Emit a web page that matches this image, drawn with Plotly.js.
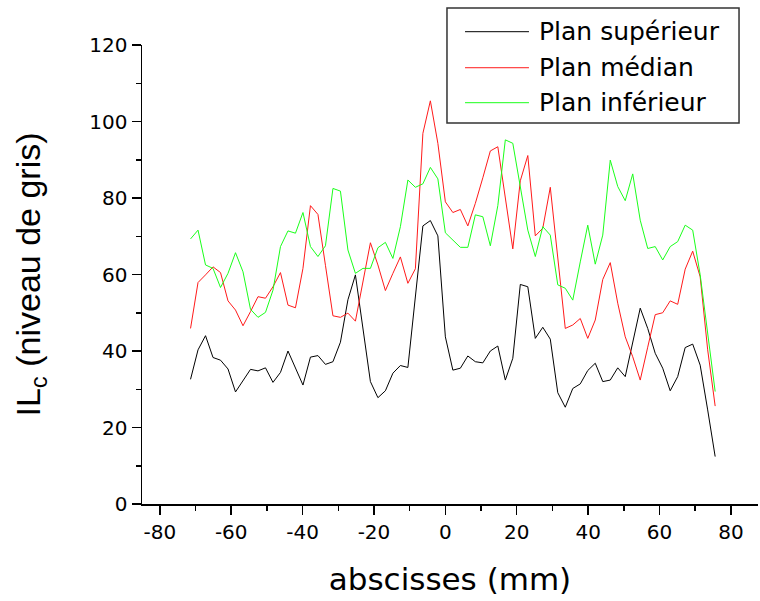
<!DOCTYPE html>
<html>
<head>
<meta charset="utf-8">
<script src="https://cdn.plot.ly/plotly-3.0.1.min.js"></script>
<style>html,body{margin:0;padding:0;background:#fff;}#chart{width:760px;height:601px;}</style>
</head>
<body>
<div id="chart"></div>
<script>
const abscisses = [-71.4, -69.3, -67.2, -65.1, -63.0, -60.9, -58.8, -56.7, -54.6, -52.5,
  -50.4, -48.3, -46.2, -44.1, -42.0, -39.9, -37.8, -35.7, -33.6, -31.5,
  -29.4, -27.3, -25.2, -23.1, -21.0, -18.9, -16.8, -14.7, -12.6, -10.5,
  -8.4, -6.3, -4.2, -2.1, 0.0, 2.1, 4.2, 6.3, 8.4, 10.5,
  12.6, 14.7, 16.8, 18.9, 21.0, 23.1, 25.2, 27.3, 29.4, 31.5,
  33.6, 35.7, 37.8, 39.9, 42.0, 44.1, 46.2, 48.3, 50.4, 52.5,
  54.6, 56.7, 58.8, 60.9, 63.0, 65.1, 67.2, 69.3, 71.4, 73.5, 75.6];

const planSuperieur = [32.6, 40.3, 44.0, 38.3, 37.6, 35.3, 29.3, 32.4, 35.2, 34.8,
  35.6, 31.8, 34.4, 40.0, 35.5, 31.1, 38.4, 38.8, 36.5, 37.2,
  42.3, 53.4, 59.9, 46.2, 32.0, 27.8, 29.6, 34.2, 36.2, 35.7,
  54.2, 72.7, 74.1, 70.1, 43.7, 35.0, 35.5, 38.7, 37.2, 36.9,
  40.0, 41.3, 32.4, 38.1, 57.4, 56.8, 43.3, 46.2, 43.1, 29.1,
  25.3, 30.2, 31.4, 34.9, 36.8, 32.0, 32.4, 35.6, 33.3, 42.2,
  51.2, 45.9, 39.4, 35.5, 29.6, 33.3, 40.9, 41.8, 36.3, 24.6, 12.4];

const planMedian = [45.9, 57.9, 59.9, 62.0, 60.5, 53.1, 50.7, 46.6, 50.3, 54.2,
  53.8, 56.8, 60.5, 52.0, 51.3, 61.6, 78.0, 75.7, 62.4, 49.2,
  48.8, 49.9, 47.8, 58.0, 68.3, 62.5, 55.8, 60.3, 64.6, 57.7,
  61.5, 96.9, 105.4, 94.3, 79.0, 76.2, 77.0, 72.7, 78.6, 85.3,
  92.3, 93.4, 80.0, 66.7, 84.5, 91.1, 70.1, 72.1, 82.8, 64.7,
  45.9, 46.8, 48.5, 43.3, 48.1, 58.7, 63.1, 52.5, 43.7, 38.5,
  32.4, 41.0, 49.5, 50.0, 53.1, 52.2, 61.4, 66.1, 59.4, 40.3, 25.6];

const planInferieur = [69.3, 71.6, 62.5, 61.6, 56.6, 60.3, 65.7, 60.7, 50.9, 48.8,
  50.1, 55.9, 67.3, 71.4, 70.8, 76.2, 67.3, 64.7, 67.5, 82.5,
  81.8, 66.4, 60.3, 61.6, 61.6, 67.0, 68.4, 64.2, 72.5, 84.7,
  82.8, 83.7, 88.0, 85.0, 70.9, 69.0, 67.1, 67.1, 75.6, 75.1,
  67.5, 78.0, 95.2, 94.3, 83.0, 71.6, 64.7, 72.5, 70.3, 57.3,
  56.4, 53.3, 63.3, 72.9, 62.7, 70.3, 89.9, 83.0, 79.3, 86.3,
  74.2, 66.8, 67.3, 63.8, 67.3, 68.6, 72.9, 71.6, 59.9, 44.6, 29.4];

const seriesNames = ['Plan supérieur', 'Plan médian', 'Plan inférieur'];
const seriesColors = ['#000000', '#ff1a1a', '#1aff1a'];
const seriesValues = [planSuperieur, planMedian, planInferieur];

const xTickVals = [-80, -60, -40, -20, 0, 20, 40, 60, 80];
const xTickText = ['-80', '-60', '-40', '-20', '0', '20', '40', '60', '80'];
const yTickVals = [0, 20, 40, 60, 80, 100, 120];
const yTickText = ['0', '20', '40', '60', '80', '100', '120'];

const traces = seriesValues.map((vals, k) => ({
  type: 'scatter',
  mode: 'lines',
  x: abscisses,
  y: vals,
  name: seriesNames[k],
  line: {color: seriesColors[k], width: 1}
}));

// Legend drawn as a framed box (Origin-style), in paper coordinates
const legBox = {x0: 0.4951, x1: 0.9692, y0: 0.8301, y1: 1.0806};
const legRows = [1.0290, 0.9505, 0.8743];
const legLineX = [0.5244, 0.6282];
const legTextX = 0.6412;

const shapes = [{
  type: 'rect', xref: 'paper', yref: 'paper',
  x0: legBox.x0, x1: legBox.x1, y0: legBox.y0, y1: legBox.y1,
  line: {color: '#333', width: 1.5}, fillcolor: '#fff', layer: 'above'
}];
const annotations = [];
seriesNames.forEach((nm, k) => {
  shapes.push({
    type: 'line', xref: 'paper', yref: 'paper',
    x0: legLineX[0], x1: legLineX[1], y0: legRows[k], y1: legRows[k],
    line: {color: seriesColors[k], width: 1}, layer: 'above'
  });
  annotations.push({
    xref: 'paper', yref: 'paper', x: legTextX, y: legRows[k],
    xanchor: 'left', yanchor: 'middle', showarrow: false,
    text: nm, font: {family: 'DejaVu Sans', size: 25, color: '#000'}
  });
});

const axisFont = {family: 'DejaVu Sans', size: 20, color: '#000'};

const layout = {
  width: 760,
  height: 601,
  margin: {l: 142, r: 2, t: 45, b: 97},
  paper_bgcolor: '#fff',
  plot_bgcolor: '#fff',
  showlegend: false,
  shapes: shapes,
  annotations: annotations,
  xaxis: {
    range: [-85.0, 87.6],
    tickmode: 'array',
    tickvals: xTickVals,
    ticktext: xTickText,
    ticks: 'outside', ticklen: 9, tickwidth: 1.5, tickcolor: '#000',
    minor: {tickmode: 'array', tickvals: [-70, -50, -30, -10, 10, 30, 50, 70], ticks: 'outside', ticklen: 5, tickwidth: 1.5, tickcolor: '#000', showgrid: false},
    showline: true, linecolor: '#000', linewidth: 1.5,
    showgrid: false, zeroline: false,
    tickfont: axisFont,
    title: {text: 'abscisses (mm)', font: {family: 'DejaVu Sans', size: 31, color: '#000'}, standoff: 26}
  },
  yaxis: {
    range: [0, 120],
    tickmode: 'array',
    tickvals: yTickVals,
    ticktext: yTickText,
    ticks: 'outside', ticklen: 9, tickwidth: 1.5, tickcolor: '#000',
    minor: {tickmode: 'array', tickvals: [10, 30, 50, 70, 90, 110], ticks: 'outside', ticklen: 5, tickwidth: 1.5, tickcolor: '#000', showgrid: false},
    showline: true, linecolor: '#000', linewidth: 1.5,
    showgrid: false, zeroline: false,
    tickfont: axisFont,
    title: {text: 'IL<sub>c</sub> (niveau de gris)', font: {family: 'Liberation Sans', size: 34, color: '#000'}, standoff: 38}
  }
};

Plotly.newPlot('chart', traces, layout, {displayModeBar: false, staticPlot: true});
</script>
</body>
</html>
